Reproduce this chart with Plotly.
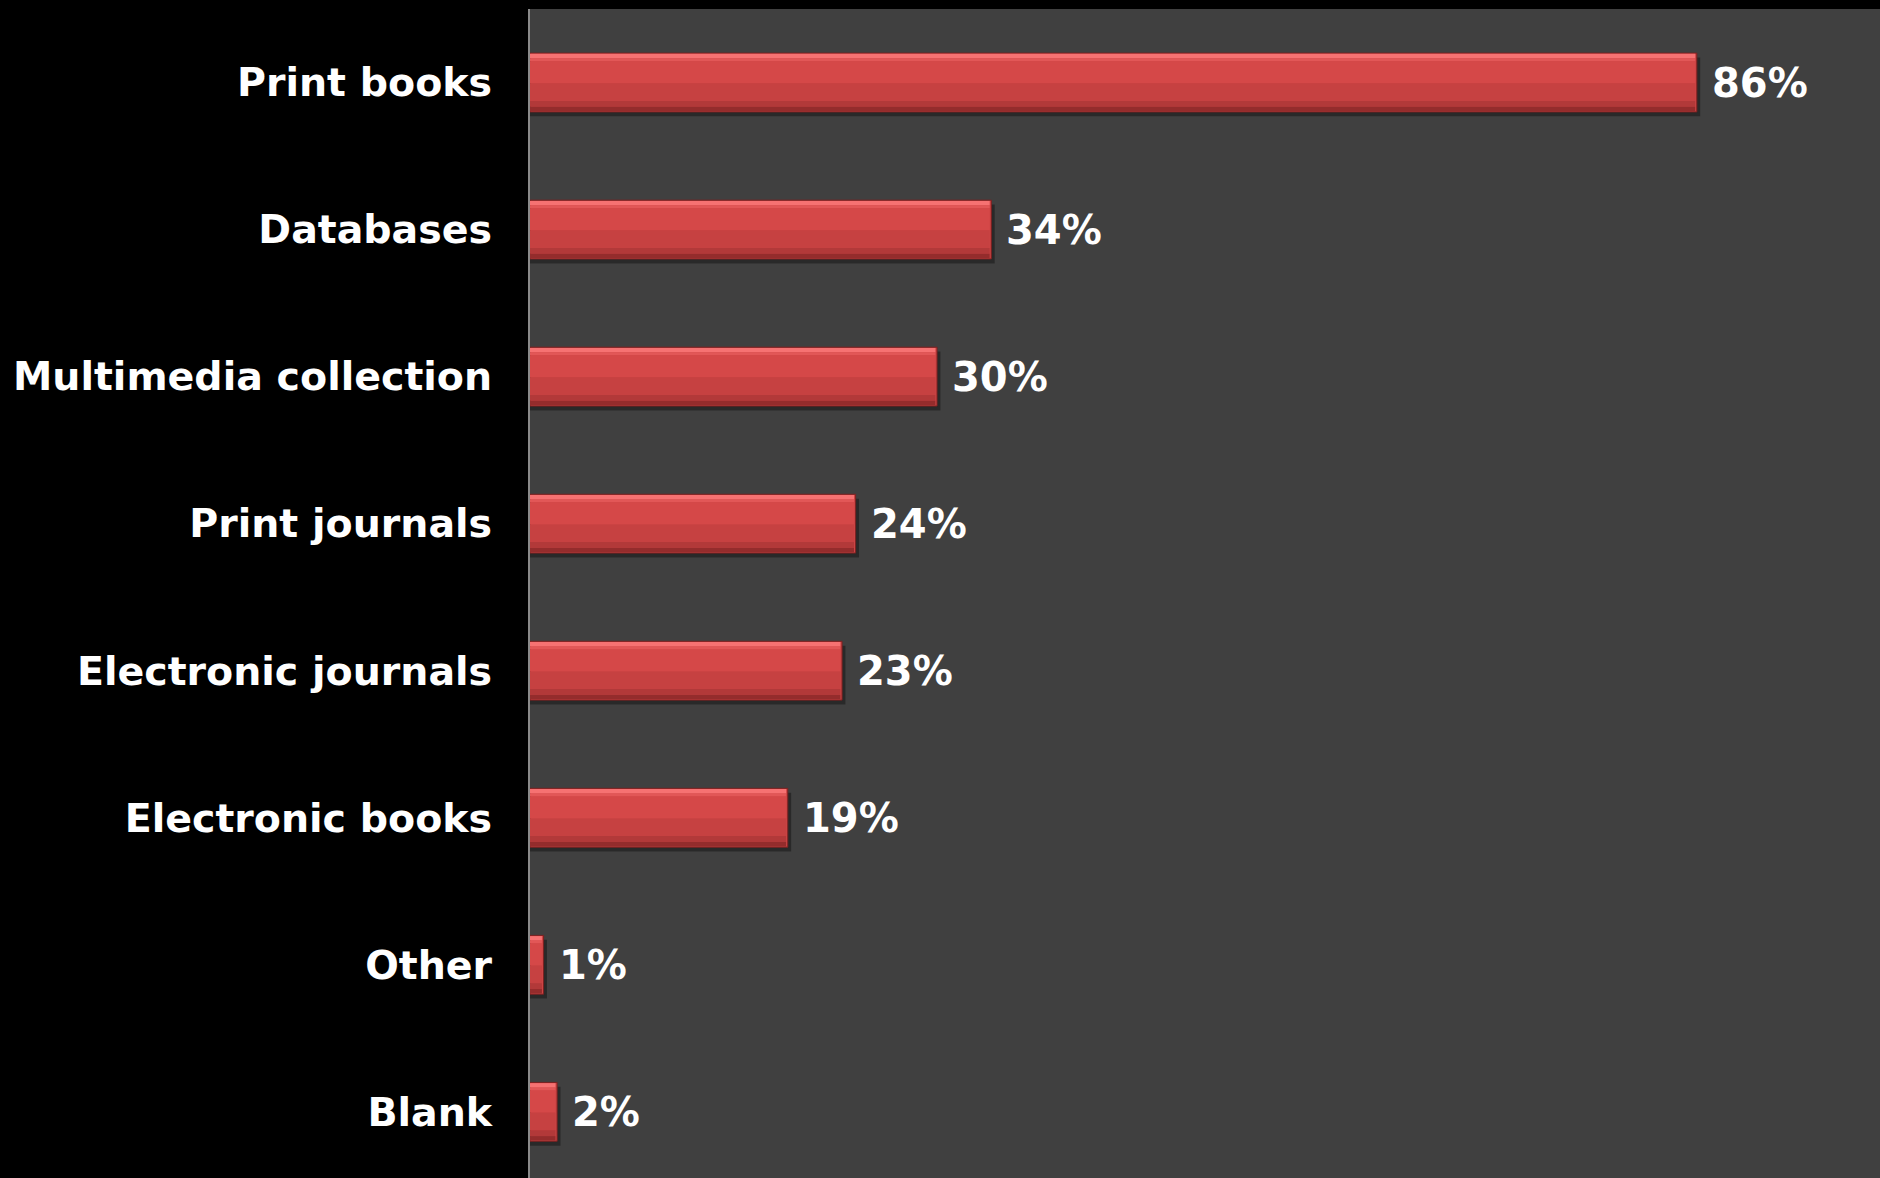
import plotly.graph_objects as go

categories = ["Print books", "Databases", "Multimedia collection", "Print journals",
              "Electronic journals", "Electronic books", "Other", "Blank"]
values = [86, 34, 30, 24, 23, 19, 1, 2]
labels = [f"{v}%" for v in values]

fig = go.Figure()

# shadow
fig.add_trace(go.Bar(y=categories, x=[v + 0.25 for v in values], orientation="h",
                     width=0.4, offset=-0.17, marker=dict(color="rgba(0,0,0,0.35)", line_width=0),
                     hoverinfo="skip", showlegend=False))
# main face
fig.add_trace(go.Bar(y=categories, x=values, orientation="h", width=0.4, offset=-0.2,
                     marker=dict(color="#CC4444", line=dict(color="#7A2020", width=1)),
                     showlegend=False))
# bevel strips (top highlight -> bottom dark)
strips = [(-0.195, 0.03, "#F67272"), (-0.165, 0.02, "#E25757"), (-0.145, 0.15, "#D54848"),
          (0.005, 0.12, "#C64141"), (0.125, 0.04, "#B23939"), (0.165, 0.03, "#942C2C")]
for off, w, col in strips:
    fig.add_trace(go.Bar(y=categories, x=[max(v - 0.12, 0.05) for v in values], orientation="h",
                         width=w, offset=off, marker=dict(color=col, line_width=0),
                         hoverinfo="skip", showlegend=False))

for c, v, t in zip(categories, values, labels):
    fig.add_annotation(x=v, y=c, text=t, xanchor="left", yanchor="middle", xshift=13,
                       showarrow=False,
                       font=dict(family="DejaVu Sans", size=40, color="white", weight="bold"))

fig.update_layout(
    width=1880, height=1178,
    margin=dict(l=530, r=0, t=9, b=0),
    paper_bgcolor="black", plot_bgcolor="#404040",
    barmode="overlay",
    xaxis=dict(range=[0, 99.5], showgrid=False, zeroline=False, showticklabels=False,
               showline=False),
    yaxis=dict(range=[7.45, -0.5], showgrid=False, zeroline=False, showline=True,
               linecolor="#8A8A8A", linewidth=2, ticks="", ticklabelstandoff=28,
               tickfont=dict(family="DejaVu Sans", size=39.5, color="white", weight="bold")),
)

fig.write_html("out.html", config={"displayModeBar": False},
               post_script="document.body.style.margin='0';document.body.style.background='black';")
